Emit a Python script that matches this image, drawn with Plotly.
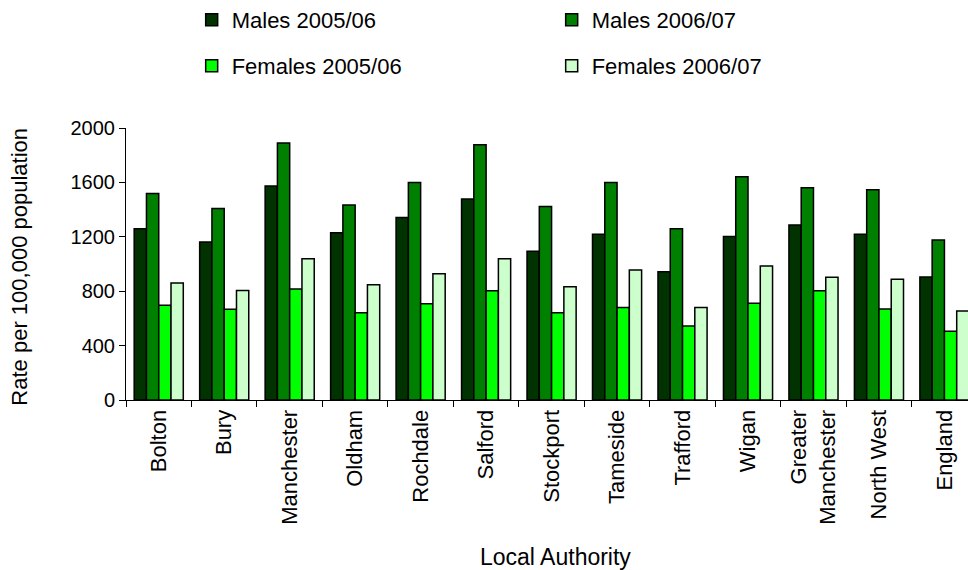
import plotly.graph_objects as go

categories = ["Bolton", "Bury", "Manchester", "Oldham", "Rochdale", "Salford", "Stockport",
              "Tameside", "Trafford", "Wigan", "Greater<br>Manchester", "North West", "England"]
males_0506 = [1260, 1162, 1574, 1230, 1341, 1478, 1093, 1218, 943, 1203, 1287, 1218, 904]
males_0607 = [1519, 1409, 1890, 1434, 1600, 1877, 1422, 1600, 1260, 1642, 1561, 1546, 1176]
females_0506 = [696, 667, 816, 642, 708, 804, 642, 681, 544, 711, 804, 669, 505]
females_0607 = [860, 806, 1039, 848, 929, 1039, 833, 956, 681, 985, 902, 887, 654]
y_ticks = [0, 400, 800, 1200, 1600, 2000]

FONT = "Liberation Sans, Arial, sans-serif"

series = [
    ("Males 2005/06", males_0506, "#003300", "legend"),
    ("Males 2006/07", males_0607, "#008000", "legend"),
    ("Females 2005/06", females_0506, "#00FF00", "legend2"),
    ("Females 2006/07", females_0607, "#CCFFCC", "legend2"),
]

fig = go.Figure()
for name, vals, col, leg in series:
    fig.add_trace(go.Bar(
        name=name, x=categories, y=vals,
        marker=dict(color=col, line=dict(color="black", width=1.5)),
        legend=leg,
    ))

leg_common = dict(orientation="h", xanchor="left", yanchor="middle",
                  entrywidth=315, entrywidthmode="pixels",
                  font=dict(family=FONT, size=22, color="black"),
                  bgcolor="rgba(0,0,0,0)", traceorder="normal")

fig.update_layout(
    width=968, height=570,
    margin=dict(l=126, r=0, t=128, b=170, autoexpand=False),
    paper_bgcolor="white", plot_bgcolor="white",
    barmode="group", bargap=0.25, bargroupgap=0,
    font=dict(family=FONT, color="black"),
    legend=dict(x=0.078, y=1.397, **leg_common),
    legend2=dict(x=0.078, y=1.228, **leg_common),
    xaxis=dict(
        type="category", range=[-0.5, 12.36],
        tickson="boundaries", ticks="outside", ticklen=6, tickcolor="black",
        showline=True, linecolor="black", linewidth=1,
        tickangle=-90, tickfont=dict(family=FONT, size=22, color="black"),
        showgrid=False,
    ),
    yaxis=dict(
        range=[0, 2000], tickvals=y_ticks, ticks="outside", ticklen=6, tickcolor="black",
        showline=True, linecolor="black", linewidth=1,
        showgrid=False, zeroline=False,
        tickfont=dict(family=FONT, size=20, color="black"),
    ),
    annotations=[
        dict(text="Rate per 100,000 population", xref="paper", yref="paper",
             x=-0.126, y=0.49, xanchor="center", yanchor="middle", textangle=-90, showarrow=False,
             font=dict(family=FONT, size=22, color="black")),
        dict(text="Local Authority", xref="paper", yref="paper",
             x=0.51, y=-0.577, xanchor="center", yanchor="middle", showarrow=False,
             font=dict(family=FONT, size=23, color="black")),
    ],
)

fig.write_html("out.html")
